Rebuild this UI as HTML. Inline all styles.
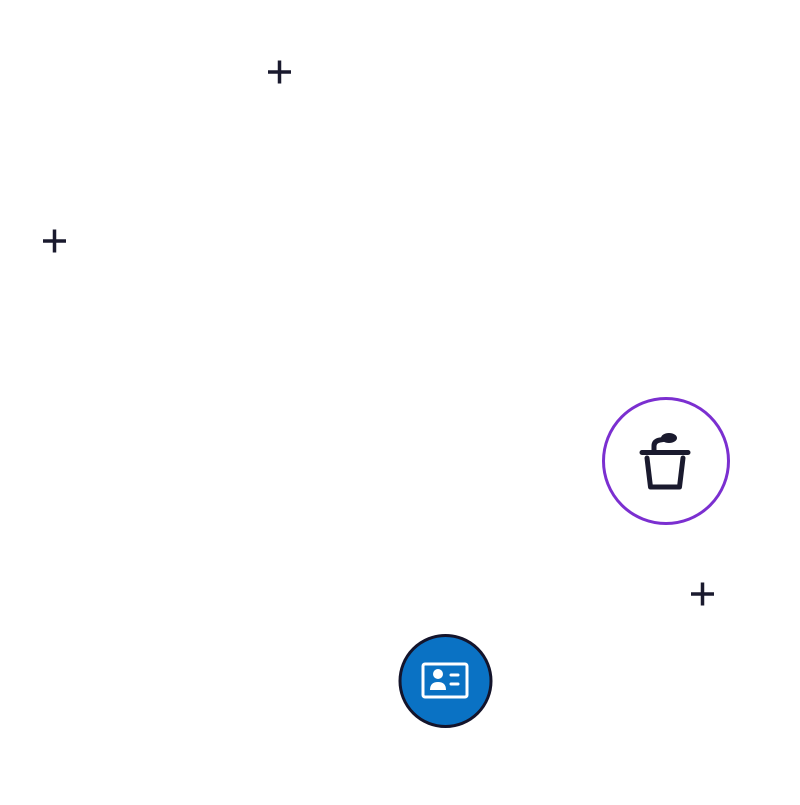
<!DOCTYPE html>
<html><head><style>html,body{margin:0;padding:0;background:#fff;}</style></head>
<body>
<svg width="800" height="800" viewBox="0 0 800 800" xmlns="http://www.w3.org/2000/svg">
<g stroke="#1a1a2e" stroke-width="3.5" stroke-linecap="butt">
<path d="M268 72h23M279.5 60.5v23"/>
<path d="M43 241h23M54.5 229.5v23"/>
<path d="M691 594h23M702.5 582.5v23"/>
</g>
<circle cx="666" cy="461" r="62.5" fill="#fff" stroke="#7B2FD0" stroke-width="3"/>
<g fill="none" stroke="#1a1a2e" stroke-width="5" stroke-linecap="round" stroke-linejoin="round">
<path d="M642 452.5h46"/>
<path d="M647 458l3.5 29h29l3.5-29"/>
<path d="M654 451v-5q0-5 6-6l6-1"/>
</g>
<ellipse cx="669" cy="438" rx="8" ry="5" fill="#1a1a2e"/>
<circle cx="445.5" cy="681" r="45.5" fill="#0A72C4" stroke="#14142b" stroke-width="3"/>
<g fill="none" stroke="#fff" stroke-width="3" stroke-linecap="round">
<rect x="423" y="664" width="44" height="33" rx="2"/>
<path d="M451 675h7M451 684h7"/>
</g>
<circle cx="438" cy="674" r="5" fill="#fff"/>
<path d="M430 690q0-8 8-8q8 0 8 8z" fill="#fff"/>
</svg>
</body></html>
